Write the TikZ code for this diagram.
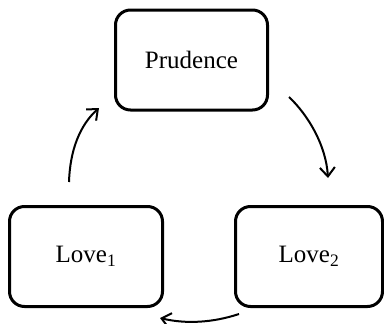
\documentclass[tikz,border=0pt]{standalone}
\usepackage{fontspec}
\setmainfont{Liberation Serif}
\usetikzlibrary{arrows.meta}
\begin{document}
\begin{tikzpicture}[x=1pt,y=-1pt,
  box/.style={draw=black, line width=3pt, rounded corners=15pt, minimum width=#1, minimum height=100pt, inner sep=0pt, font=\fontsize{25}{29}\selectfont},
  cyc/.style={line width=2pt, -{Straight Barb[length=9pt,width=15pt,line width=2pt]}}]
\useasboundingbox (0,0) rectangle (384,324);
\node[box=152pt] (prud) at (191.5,60) {Prudence};
\node[box=153pt] (love1) at (86,256.5) {Love\textsubscript{1}};
\node[box=147pt] (love2) at (309,256.5) {Love\textsubscript{2}};
\coordinate (a1s) at (69,182);
\coordinate (a1e) at (99,108);
\coordinate (a2s) at (289,97);
\coordinate (a2e) at (328,178);
\coordinate (a3s) at (239,314);
\coordinate (a3e) at (160,318);
\draw[cyc] (a1s) .. controls (70,150) and (80,125) .. (a1e);
\draw[cyc] (a2s) .. controls (308,115) and (326,145) .. (a2e);
\draw[cyc] (a3s) .. controls (212,323) and (185,324) .. (a3e);
\end{tikzpicture}
\end{document}
